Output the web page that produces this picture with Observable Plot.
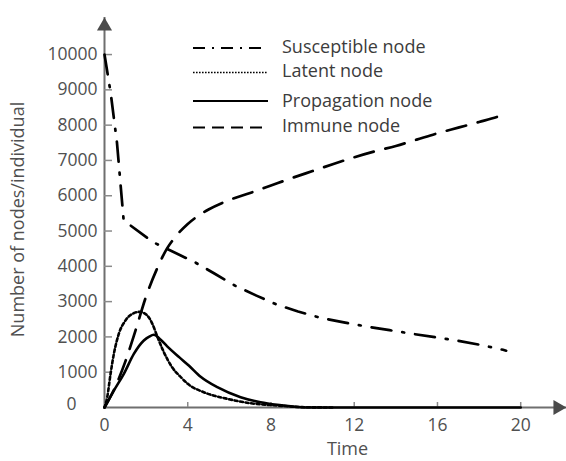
<!DOCTYPE html>
<html>
<head>
<meta charset="utf-8">
<script src="https://cdn.jsdelivr.net/npm/d3@7"></script>
<script src="https://cdn.jsdelivr.net/npm/@observablehq/plot@0.6"></script>
<style>
  html, body { margin: 0; padding: 0; background: #fff; }
  #chart { width: 566px; height: 461px; }
</style>
</head>
<body>
<div id="chart"></div>
<script>
// ---- data ----
const seriesNames = ["Susceptible node", "Latent node", "Propagation node", "Immune node"];

const susceptibleTime  = [0, 0.3, 0.6, 0.92, 2.34, 3.0, 4.34, 5.3, 6.26, 7.3, 8.27, 9.3, 10.38, 11.5, 12.58, 13.7, 14.79, 15.9, 16.99, 18.1, 19.15, 19.3];
const susceptibleValue = [10000, 8900, 7500, 5300, 4683, 4496, 4116, 3790, 3456, 3170, 2918, 2720, 2541, 2410, 2295, 2190, 2088, 1990, 1890, 1770, 1635, 1610];

const latentTime  = [0, 0.13, 0.29, 0.45, 0.69, 1.0, 1.4, 1.7, 2.05, 2.3, 2.55, 2.85, 3.25, 3.7, 4.0, 4.77, 5.9, 7.0, 8.3, 9.5, 11];
const latentValue = [0, 290, 950, 1520, 2090, 2460, 2670, 2710, 2610, 2370, 1990, 1570, 1140, 840, 670, 433, 246, 122, 57, 10, 0];

const propagationTime  = [0, 0.45, 0.93, 1.41, 1.89, 2.15, 2.37, 2.7, 3.0, 3.6, 4.05, 4.62, 5.42, 6.54, 7.5, 8.3, 9.3, 10, 20];
const propagationValue = [0, 480, 955, 1520, 1900, 2010, 2060, 1920, 1740, 1420, 1190, 870, 575, 292, 150, 76, 15, 0, 0];

const immuneTime  = [0, 0.5, 1.0, 1.5, 2.0, 2.5, 3.0, 3.5, 4.0, 4.5, 5.0, 6.0, 7.0, 8.0, 9.0, 10, 11, 12, 13, 14, 15, 16, 17, 18, 19, 19.3];
const immuneValue = [0, 560, 1300, 2200, 3150, 3900, 4500, 4900, 5200, 5430, 5610, 5880, 6080, 6290, 6500, 6700, 6900, 7090, 7260, 7410, 7590, 7770, 7930, 8090, 8260, 8320];

const xTicks = [0, 4, 8, 12, 16, 20];
const yTicks = [0, 1000, 2000, 3000, 4000, 5000, 6000, 7000, 8000, 9000, 10000];
const xAxisEnd = 22.2;   // axis arrow extent
const yAxisEnd = 11050;
const xLabel = "Time";
const yLabel = "Number of nodes/individual";

// ---- build tables ----
const zip = (t, v, name) => t.map((x, i) => ({time: x, value: v[i], series: name}));
const S = zip(susceptibleTime, susceptibleValue, seriesNames[0]);
const L = zip(latentTime, latentValue, seriesNames[1]);
const P = zip(propagationTime, propagationValue, seriesNames[2]);
const I = zip(immuneTime, immuneValue, seriesNames[3]);

const W = 566, H = 461, mL = 104, mR = 0, mT = 17, mB = 54;
const frameW = W - mL - mR, frameH = H - mT - mB;
const axisColor = "#6f6f6f", textColor = "#505050";

const chart = Plot.plot({
  width: W, height: H,
  marginLeft: mL, marginRight: mR, marginTop: mT, marginBottom: mB,
  x: {domain: [0, xAxisEnd]},
  y: {domain: [0, yAxisEnd]},
  style: {fontFamily: "'Open Sans', sans-serif", fontSize: "17.5px", background: "#fff", color: textColor, overflow: "visible"},
  marks: [
    // axis lines
    Plot.ruleY([0], {stroke: axisColor, strokeWidth: 2}),
    Plot.ruleX([0], {stroke: axisColor, strokeWidth: 2}),
    // inward tick marks
    Plot.tickY(yTicks.slice(1), {y: d => d, insetRight: frameW - 8, stroke: "#8a8a8a", strokeWidth: 1.5}),
    Plot.tickX(xTicks.slice(1), {x: d => d, insetTop: frameH - 5, stroke: "#8a8a8a", strokeWidth: 1.5}),
    // tick labels (the reference sets its "0" label further left)
    Plot.axisY(yTicks.slice(1), {tickSize: 0, tickPadding: 7, label: null, tickFormat: d => String(d), fill: textColor}),
    Plot.axisY(yTicks.slice(0, 1), {tickSize: 0, tickPadding: 28, label: null, tickFormat: d => String(d), fill: textColor, dy: -3}),
    Plot.axisX(xTicks, {tickSize: 0, tickPadding: 11, label: null, tickFormat: d => String(d), fill: textColor}),
    // axis arrows
    Plot.dot([0], {x: d => d, y: () => yAxisEnd, symbol: "triangle", r: 5.6, fill: "#4a4a4a", stroke: null, dy: 8.7}),
    Plot.dot([0], {x: () => xAxisEnd, y: d => d, symbol: "triangle", r: 5.6, fill: "#4a4a4a", stroke: null, rotate: 90, dx: -8.7}),
    // axis titles
    Plot.text([yLabel], {frameAnchor: "left", text: d => d, rotate: -90, textAnchor: "middle", lineAnchor: "middle", dx: -86, dy: 7, fontSize: 18, fill: textColor}),
    Plot.text([xLabel], {frameAnchor: "bottom", text: d => d, textAnchor: "middle", lineAnchor: "middle", dx: 12, dy: 42, fontSize: 18, fill: textColor}),
    // curves
    Plot.line(I, {x: "time", y: "value", curve: "monotone-x", stroke: "#000", strokeWidth: 2.7, strokeDasharray: "20,12"}),
    Plot.line(S, {x: "time", y: "value", curve: "linear", stroke: "#000", strokeWidth: 2.7, strokeDasharray: "20,11,2,11"}),
    Plot.line(L, {x: "time", y: "value", curve: "monotone-x", stroke: "#000", strokeWidth: 2.6, strokeDasharray: "3,2.6"}),
    Plot.line(P, {x: "time", y: "value", curve: "monotone-x", stroke: "#000", strokeWidth: 2.6})
  ]
});

// ---- legend (drawn into the same SVG) ----
const legendRows = [
  {name: seriesNames[0], lineY: 48,  textY: 53,  dash: "12,7,2,7", w: 2},
  {name: seriesNames[1], lineY: 72.5, textY: 77, dash: "1.6,1.4", w: 1.6},
  {name: seriesNames[2], lineY: 101, textY: 107, dash: null, w: 2},
  {name: seriesNames[3], lineY: 127.5, textY: 132, dash: "12,7", w: 2}
];
const svg = d3.select(chart.tagName.toLowerCase() === "svg" ? chart : chart.querySelector("svg"));
const lg = svg.append("g").attr("class", "legend").attr("text-anchor", "start");
legendRows.forEach(r => {
  lg.append("line")
    .attr("x1", 193).attr("x2", 268).attr("y1", r.lineY).attr("y2", r.lineY)
    .attr("stroke", "#000").attr("stroke-width", r.w)
    .attr("stroke-dasharray", r.dash);
  lg.append("text")
    .attr("x", 282).attr("y", r.textY)
    .attr("text-anchor", "start")
    .attr("fill", "#3c3c3c")
    .attr("font-size", 18)
    .attr("font-family", "'Open Sans', sans-serif")
    .text(r.name);
});

document.getElementById("chart").appendChild(chart);
</script>
</body>
</html>
